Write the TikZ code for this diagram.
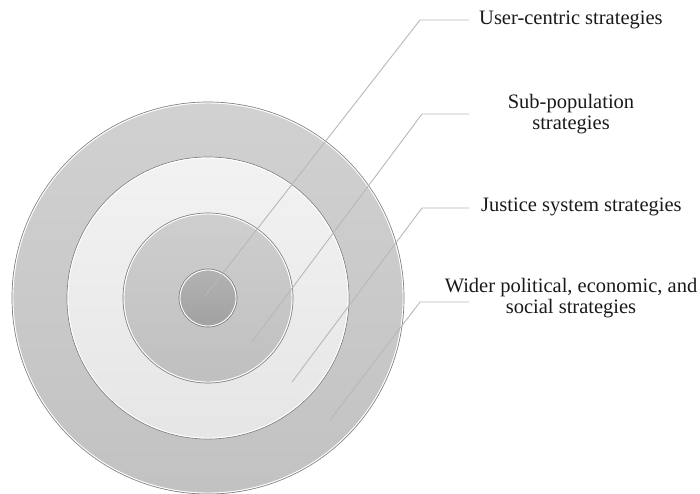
\documentclass[tikz,border=0pt]{standalone}
\usepackage{fontspec}
\setmainfont{Liberation Serif}
\begin{document}
\begin{tikzpicture}[x=1pt,y=-1pt,
  ring/.style={circle,inner sep=0pt,draw=black!50,line width=0.7pt},
  hilite/.style={draw=white,line width=0.9pt},
  leader/.style={draw=black!28,line width=0.9pt},
  lbl/.style={font=\fontsize{20.5}{21.5}\selectfont,text=black!90,align=center,inner sep=0pt}]
\useasboundingbox (0,0) rectangle (700,493);
\coordinate (c) at (208,298);
\node[ring,minimum size=392pt,top color=black!18,bottom color=black!24] (r4) at (c) {};
\draw[hilite] (c) circle (195);
\node[ring,minimum size=282pt,top color=black!5,bottom color=black!10] (r3) at (c) {};
\draw[hilite] (c) circle (140);
\node[ring,minimum size=170pt,top color=black!19,bottom color=black!25] (r2) at (c) {};
\draw[hilite] (c) circle (84);
\node[ring,minimum size=58pt,top color=black!30,bottom color=black!37] (r1) at (c) {};
\draw[hilite] (c) circle (28);
% leader lines
\coordinate (s1) at (205,296);
\coordinate (e1) at (420,20);
\coordinate (t1) at (469,20);
\coordinate (s2) at (252,342);
\coordinate (e2) at (422,114);
\coordinate (t2) at (469,114);
\coordinate (s3) at (292,382);
\coordinate (e3) at (422,208);
\coordinate (t3) at (469,208);
\coordinate (s4) at (330,420);
\coordinate (e4) at (420,302);
\coordinate (t4) at (469,302);
\draw[leader] (s1) -- (e1) -- (t1);
\draw[leader] (s2) -- (e2) -- (t2);
\draw[leader] (s3) -- (e3) -- (t3);
\draw[leader] (s4) -- (e4) -- (t4);
% labels
\node[lbl,anchor=west] (l1) at (479,20) {User-centric strategies};
\node[lbl] (l2) at (571,114) {Sub-population\\strategies};
\node[lbl,anchor=west] (l3) at (481,207) {Justice system strategies};
\node[lbl] (l4) at (571,298) {Wider political, economic, and\\social strategies};
\end{tikzpicture}
\end{document}
